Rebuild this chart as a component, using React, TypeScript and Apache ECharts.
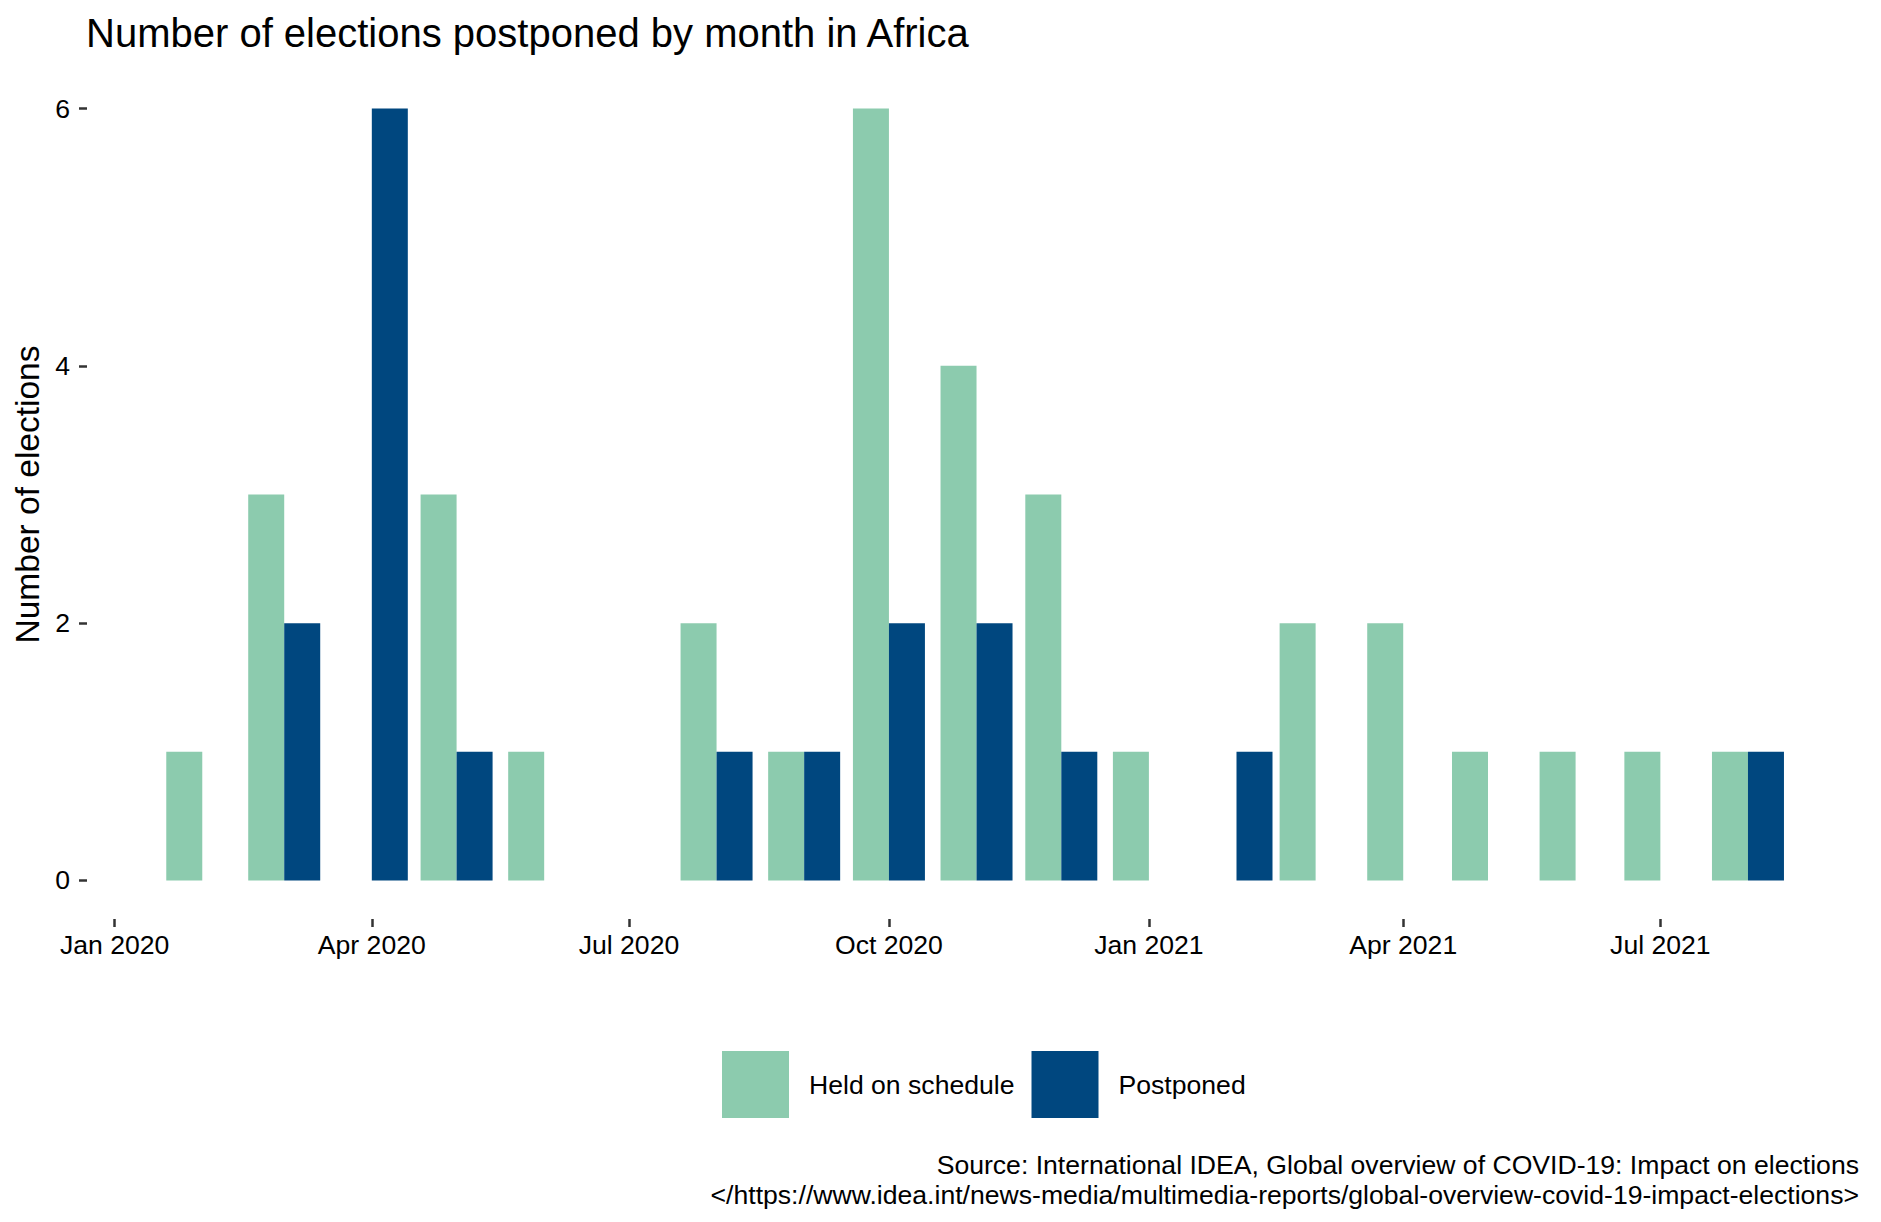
import React, { useEffect, useRef } from "react";
import * as echarts from "echarts";

const TITLE = "Number of elections postponed by month in Africa";
const Y_TITLE = "Number of elections";
const SERIES_NAMES = ["Held on schedule", "Postponed"];
const MONTHS = [
  "2020-02-01", "2020-03-01", "2020-04-01", "2020-05-01", "2020-06-01",
  "2020-08-01", "2020-09-01", "2020-10-01", "2020-11-01", "2020-12-01",
  "2021-01-01", "2021-02-01", "2021-03-01", "2021-04-01", "2021-05-01",
  "2021-06-01", "2021-07-01", "2021-08-01",
];
const HELD = [1, 3, 0, 3, 1, 2, 1, 6, 4, 3, 1, 0, 2, 2, 1, 1, 1, 1];
const POSTPONED = [0, 2, 6, 1, 0, 1, 1, 2, 2, 1, 0, 1, 0, 0, 0, 0, 0, 1];
const X_TICK_DATES = [
  "2020-01-01", "2020-04-01", "2020-07-01", "2020-10-01",
  "2021-01-01", "2021-04-01", "2021-07-01",
];
const X_TICK_LABELS = ["Jan 2020", "Apr 2020", "Jul 2020", "Oct 2020", "Jan 2021", "Apr 2021", "Jul 2021"];
const Y_TICKS = [0, 2, 4, 6];
const X_MIN = "2019-12-22T05:00:00Z";
const X_MAX = "2021-09-11T10:00:00Z";
const CAPTION = [
  "Source: International IDEA, Global overview of COVID-19: Impact on elections",
  "</https://www.idea.int/news-media/multimedia-reports/global-overview-covid-19-impact-elections>",
];
const COLORS = ["#8ccbae", "#00477f"];

const FONT = "'Liberation Sans', Arial, Helvetica, sans-serif";
const SMALL = 26.6;

export default function App() {
  const ref = useRef<HTMLDivElement>(null);
  useEffect(() => {
    if (!ref.current) return;
    const chart = echarts.init(ref.current, null, { renderer: "svg" });
    const ts = (s: string) => Date.parse(s);
    const tickTs = X_TICK_DATES.map(ts);
    const toData = (vals: number[]) =>
      MONTHS.map((m, i) => [ts(m), vals[i] === 0 ? null : vals[i]]);
    const option: any = {
      animation: false,
      backgroundColor: "#ffffff",
      textStyle: { fontFamily: FONT },
      title: {
        text: TITLE,
        left: 81,
        top: 8,
        textStyle: { fontFamily: FONT, fontSize: 40, fontWeight: "normal", color: "#000000" },
      },
      grid: {
        left: 87,
        right: 16,
        top: 70,
        bottom: 303,
        outerBoundsMode: "none",
        containLabel: false,
      },
      legend: {
        left: 717,
        top: 1046,
        icon: "rect",
        itemWidth: 67,
        itemHeight: 67,
        itemGap: 17,
        data: SERIES_NAMES,
        textStyle: { fontFamily: FONT, fontSize: SMALL, color: "#000000", padding: [0, 0, 0, 15] },
      },
      xAxis: {
        type: "value",
        min: ts(X_MIN),
        max: ts(X_MAX),
        axisLine: { show: false, onZero: false },
        splitLine: { show: false },
        axisTick: {
          show: true,
          customValues: tickTs,
          length: 8,
          lineStyle: { color: "#333333", width: 2.5 },
        },
        axisLabel: {
          show: true,
          customValues: tickTs,
          margin: 12,
          fontFamily: FONT,
          fontSize: SMALL,
          color: "#000000",
          formatter: (v: number) => {
            const i = tickTs.indexOf(v);
            return i >= 0 ? X_TICK_LABELS[i] : "";
          },
        },
      },
      yAxis: {
        type: "value",
        min: -0.3,
        max: 6.3,
        name: Y_TITLE,
        nameLocation: "middle",
        nameRotate: 90,
        nameGap: 40,
        nameTextStyle: { fontFamily: FONT, fontSize: 33.5, color: "#000000" },
        axisLine: { show: false },
        splitLine: { show: false },
        axisTick: {
          show: true,
          customValues: Y_TICKS,
          length: 8,
          lineStyle: { color: "#333333", width: 2.5 },
        },
        axisLabel: {
          show: true,
          customValues: Y_TICKS,
          margin: 17,
          fontFamily: FONT,
          fontSize: SMALL,
          color: "#000000",
        },
      },
      series: [
        {
          name: SERIES_NAMES[0],
          type: "bar",
          barWidth: 36,
          barGap: "0%",
          itemStyle: { color: COLORS[0] },
          data: toData(HELD),
        },
        {
          name: SERIES_NAMES[1],
          type: "bar",
          barWidth: 36,
          barGap: "0%",
          itemStyle: { color: COLORS[1] },
          data: toData(POSTPONED),
        },
      ],
      graphic: [
        {
          type: "text",
          right: 22,
          top: 1150,
          style: {
            text: CAPTION.join("\n"),
            font: `${SMALL}px ${FONT}`,
            fill: "#000000",
            textAlign: "right",
            lineHeight: 30,
          },
        },
      ],
    };
    chart.setOption(option);
    return () => chart.dispose();
  }, []);
  return (
    <div
      ref={ref}
      style={{ position: "fixed", left: 0, top: 0, width: 1881, height: 1222, background: "#fff" }}
    />
  );
}
